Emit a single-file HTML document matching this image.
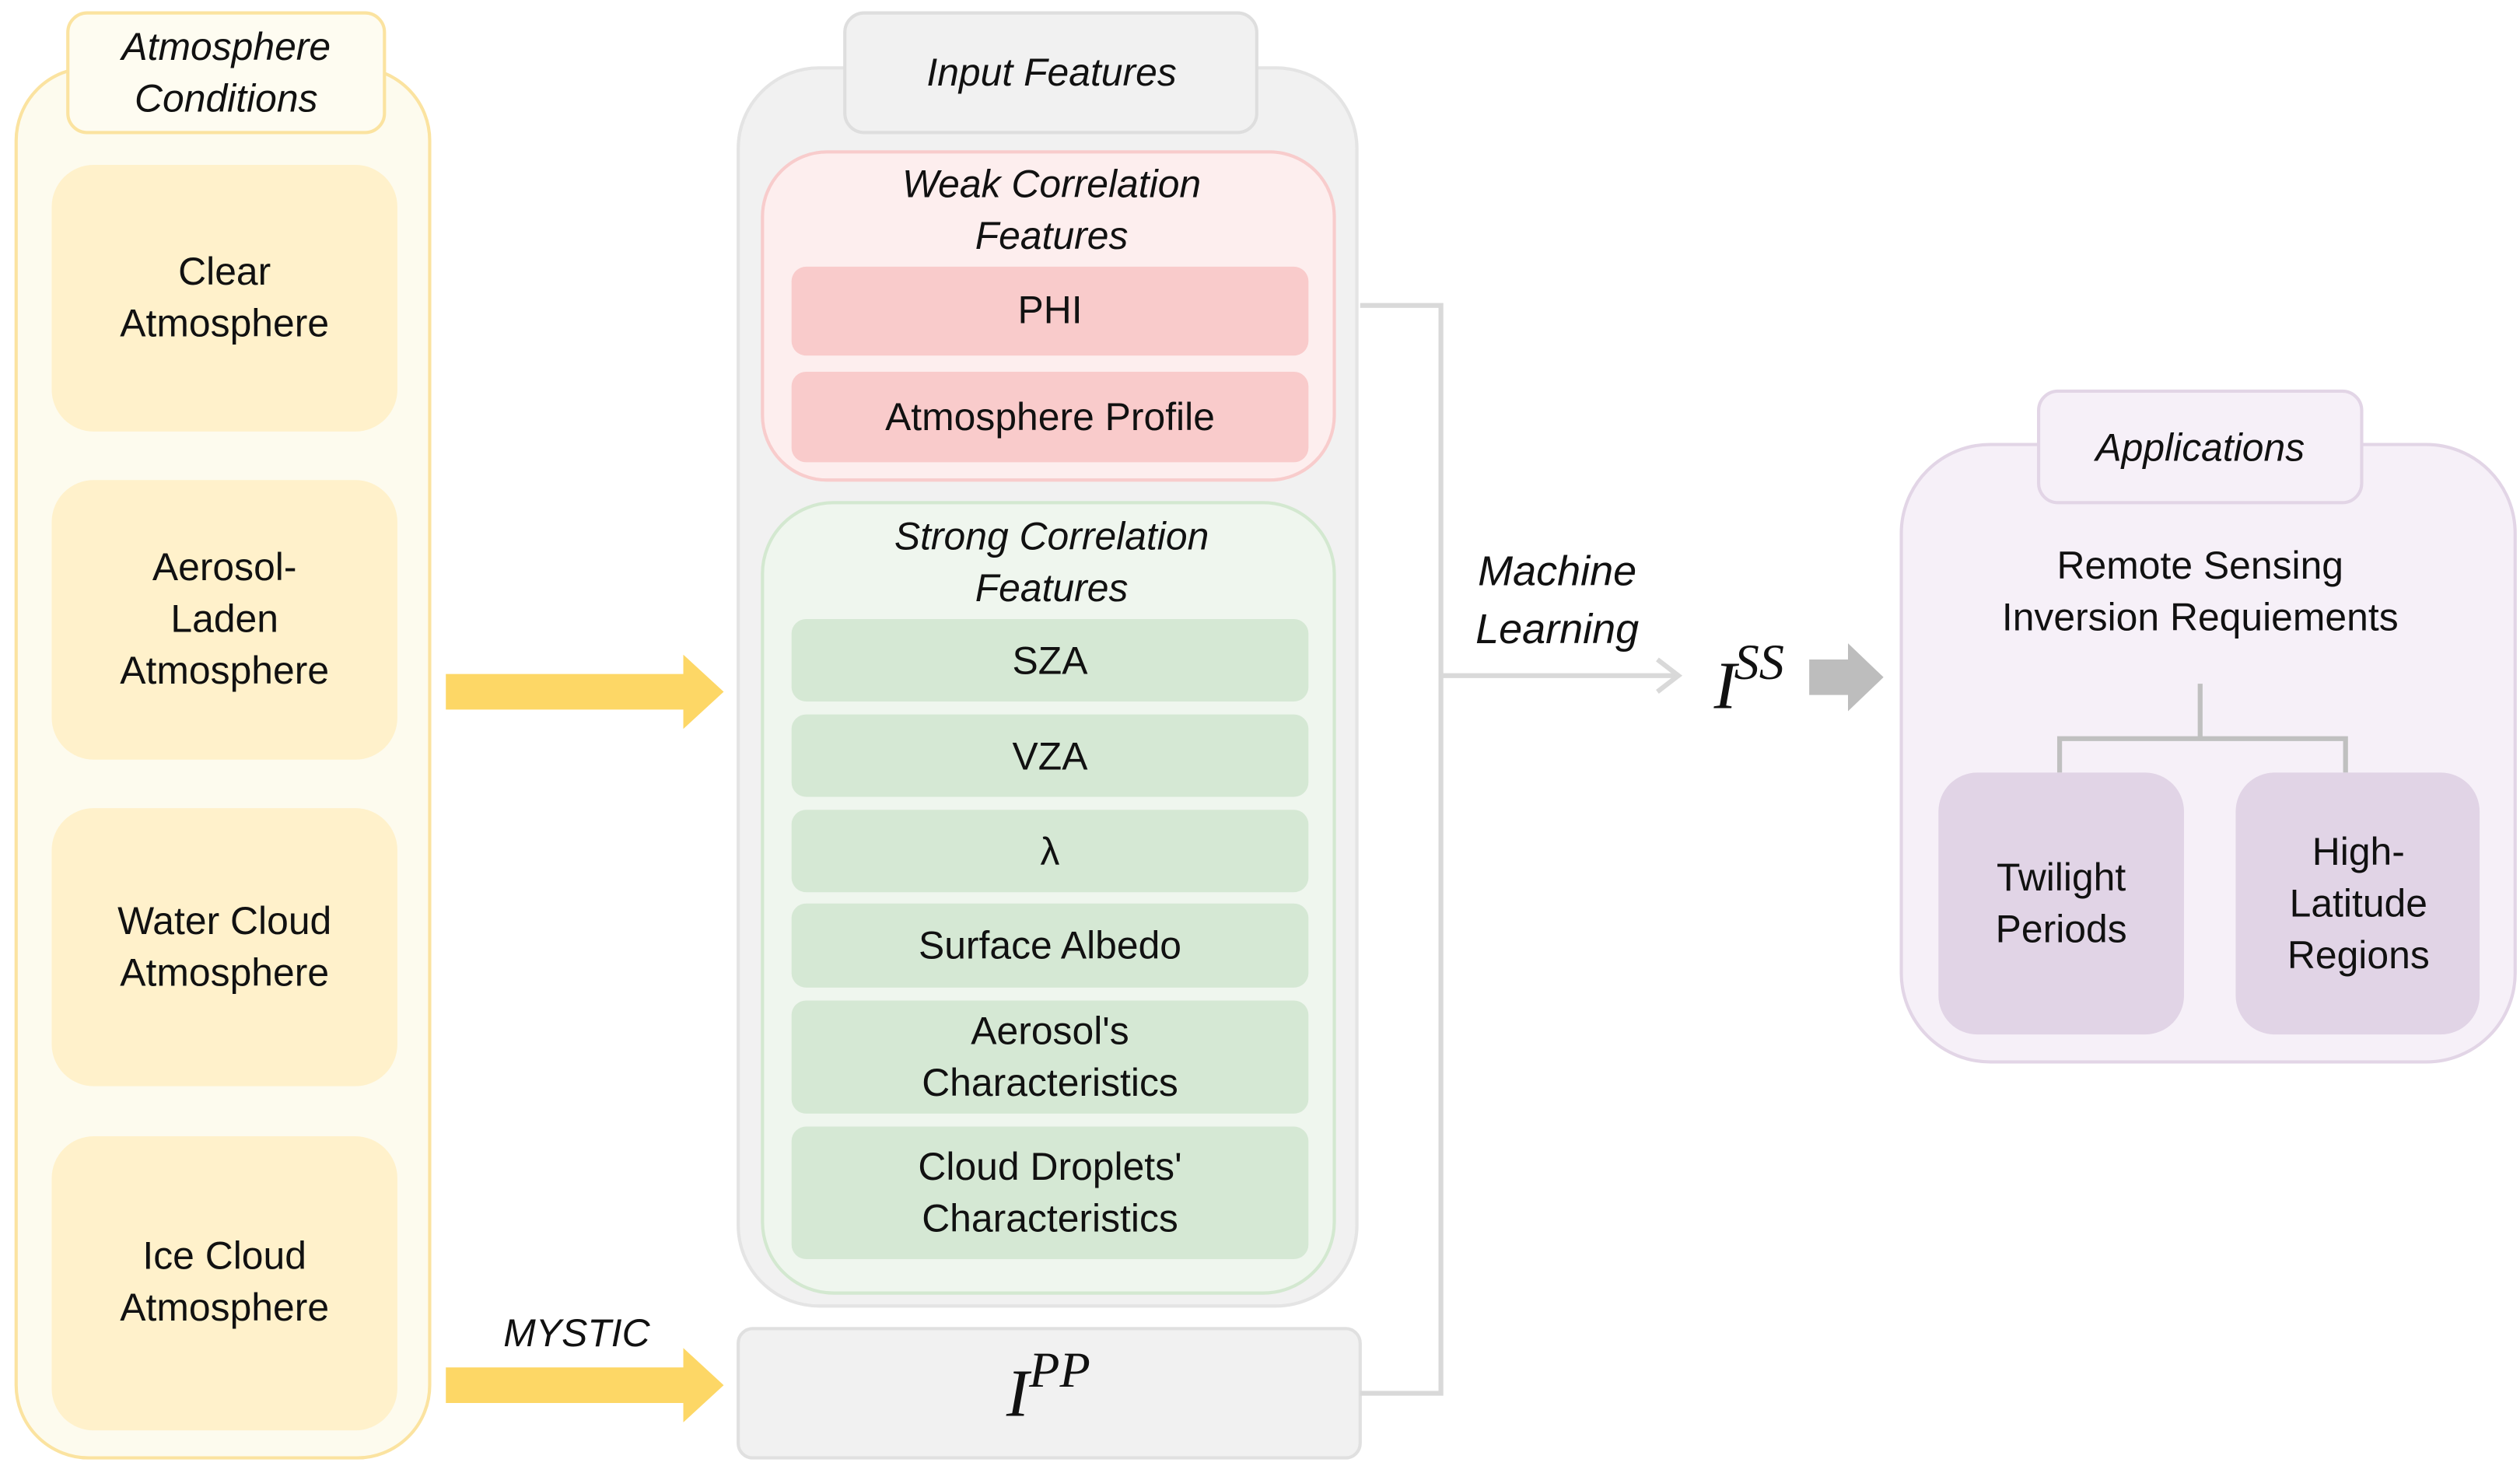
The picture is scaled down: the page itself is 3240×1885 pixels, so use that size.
<!DOCTYPE html>
<html><head><meta charset="utf-8"><style>
html,body{margin:0;padding:0;background:#fff;}
svg{display:block;}
text{font-family:"Liberation Sans",sans-serif;fill:#111;text-anchor:middle;}
.it{font-style:italic;}
.b{font-size:24px;}
</style></head><body>
<svg width="3240" height="1885" viewBox="0 0 1560 907" preserveAspectRatio="none" xmlns="http://www.w3.org/2000/svg">
<rect x="10" y="42" width="256" height="860" rx="45" fill="#fdfbee" stroke="#fbe3a0" stroke-width="2"/>
<rect x="42" y="8" width="196" height="74" rx="12" fill="#fefcf1" stroke="#fbe3a0" stroke-width="2"/>
<text class="it b" x="140" y="37">Atmosphere</text>
<text class="it b" x="140" y="69">Conditions</text>
<g fill="#fff1cb">
<rect x="32" y="102" width="214" height="165" rx="26"/>
<rect x="32" y="297" width="214" height="173" rx="26"/>
<rect x="32" y="500" width="214" height="172" rx="26"/>
<rect x="32" y="703" width="214" height="182" rx="26"/>
</g>
<text class="b" x="139" y="176">Clear</text><text class="b" x="139" y="208">Atmosphere</text>
<text class="b" x="139" y="359">Aerosol-</text><text class="b" x="139" y="391">Laden</text><text class="b" x="139" y="423">Atmosphere</text>
<text class="b" x="139" y="578">Water Cloud</text><text class="b" x="139" y="610">Atmosphere</text>
<text class="b" x="139" y="785">Ice Cloud</text><text class="b" x="139" y="817">Atmosphere</text>
<polygon points="276,417 423,417 423,405 448,428 423,451 423,439 276,439" fill="#fdd766"/>
<polygon points="276,846 423,846 423,834 448,857 423,880 423,868 276,868" fill="#fdd766"/>
<text class="it b" x="357" y="833">MYSTIC</text>
<rect x="457" y="42" width="383" height="766" rx="50" fill="#f1f1f1" stroke="#e4e4e4" stroke-width="2"/>
<rect x="523" y="8" width="255" height="74" rx="12" fill="#f1f1f1" stroke="#dedede" stroke-width="2"/>
<text class="it b" x="651" y="53">Input Features</text>
<rect x="472" y="94" width="354" height="203" rx="40" fill="#fdeeee" stroke="#f8cccc" stroke-width="2"/>
<text class="it b" x="651" y="122">Weak Correlation</text><text class="it b" x="651" y="154">Features</text>
<rect x="490" y="165" width="320" height="55" rx="9" fill="#f9cbcb"/>
<rect x="490" y="230" width="320" height="56" rx="9" fill="#f9cbcb"/>
<text class="b" x="650" y="200">PHI</text>
<text class="b" x="650" y="266">Atmosphere Profile</text>
<rect x="472" y="311" width="354" height="489" rx="44" fill="#eff6ee" stroke="#d3e8d0" stroke-width="2"/>
<text class="it b" x="651" y="340">Strong Correlation</text><text class="it b" x="651" y="372">Features</text>
<g fill="#d5e8d4">
<rect x="490" y="383" width="320" height="51" rx="9"/>
<rect x="490" y="442" width="320" height="51" rx="9"/>
<rect x="490" y="501" width="320" height="51" rx="9"/>
<rect x="490" y="559" width="320" height="52" rx="9"/>
<rect x="490" y="619" width="320" height="70" rx="9"/>
<rect x="490" y="697" width="320" height="82" rx="9"/>
</g>
<text class="b" x="650" y="417">SZA</text>
<text class="b" x="650" y="476">VZA</text>
<text class="b" x="650" y="535">λ</text>
<text class="b" x="650" y="593">Surface Albedo</text>
<text class="b" x="650" y="646">Aerosol's</text><text class="b" x="650" y="678">Characteristics</text>
<text class="b" x="650" y="730">Cloud Droplets'</text><text class="b" x="650" y="762">Characteristics</text>
<rect x="457" y="822" width="385" height="80" rx="9" fill="#f1f1f1" stroke="#e0e0e0" stroke-width="2"/>
<text x="630" y="876" style="font-family:'Liberation Serif',serif;font-style:italic;font-size:42px">I</text>
<text x="656" y="858" style="font-family:'Liberation Serif',serif;font-style:italic;font-size:31px">PP</text>
<polyline points="842,189 892,189 892,862 842,862" fill="none" stroke="#d9d9d9" stroke-width="3"/>
<line x1="892" y1="418" x2="1038" y2="418" stroke="#d9d9d9" stroke-width="3"/>
<polyline points="1026,408 1039,418 1026,428" fill="none" stroke="#d9d9d9" stroke-width="3"/>
<text class="it b" x="964" y="362" style="font-size:26px">Machine</text>
<text class="it b" x="964" y="398" style="font-size:26px">Learning</text>
<text x="1068" y="438" style="font-family:'Liberation Serif',serif;font-style:italic;font-size:42px">I</text>
<text x="1089" y="420" style="font-family:'Liberation Serif',serif;font-style:italic;font-size:31px">SS</text>
<polygon points="1120,408 1144,408 1144,398 1166,419 1144,440 1144,430 1120,430" fill="#bdbdbd"/>
<rect x="1177" y="275" width="380" height="382" rx="55" fill="#f6f0f8" stroke="#e2d5e6" stroke-width="2"/>
<rect x="1262" y="242" width="200" height="69" rx="12" fill="#f6f0f8" stroke="#e2d5e6" stroke-width="2"/>
<text class="it b" x="1362" y="285">Applications</text>
<text class="b" x="1362" y="358">Remote Sensing</text>
<text class="b" x="1362" y="390">Inversion Requiements</text>
<polyline points="1362,423 1362,457" fill="none" stroke="#c0c0c0" stroke-width="3"/>
<polyline points="1275,478 1275,457 1452,457 1452,478" fill="none" stroke="#c0c0c0" stroke-width="3"/>
<rect x="1200" y="478" width="152" height="162" rx="24" fill="#e1d4e6"/>
<rect x="1384" y="478" width="151" height="162" rx="24" fill="#e1d4e6"/>
<text class="b" x="1276" y="551">Twilight</text><text class="b" x="1276" y="583">Periods</text>
<text class="b" x="1460" y="535">High-</text><text class="b" x="1460" y="567">Latitude</text><text class="b" x="1460" y="599">Regions</text>
</svg>
</body></html>
